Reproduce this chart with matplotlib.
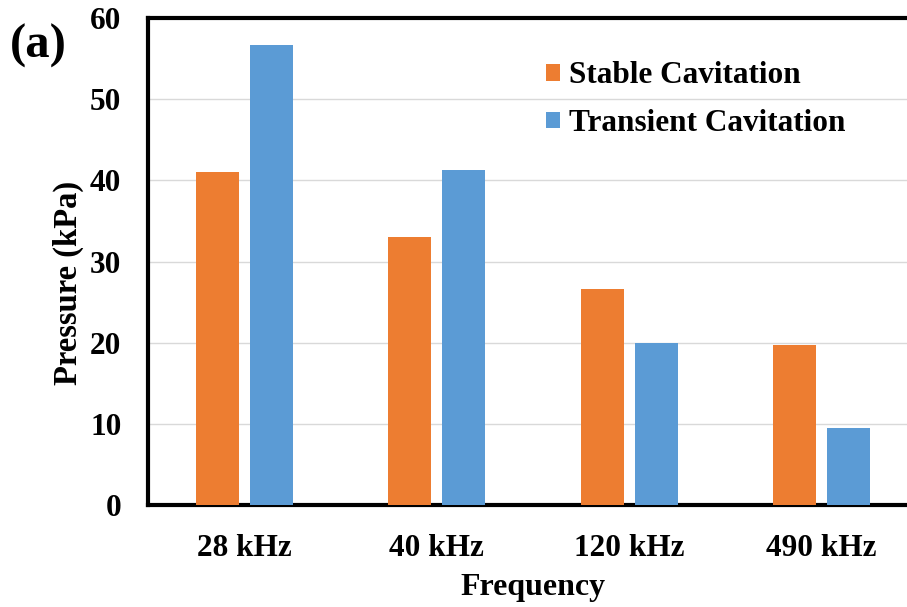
import numpy as np
import matplotlib.pyplot as plt

# Pressure measured for each ultrasonic frequency
frequencies = ['28 kHz', '40 kHz', '120 kHz', '490 kHz']
stable = [41.1, 33.0, 26.6, 19.7]
transient = [56.7, 41.3, 20.0, 9.5]

plt.rcParams['font.family'] = ['Liberation Serif', 'DejaVu Serif']
plt.rcParams['font.weight'] = 'bold'

fig = plt.figure(figsize=(9.07, 6.07), dpi=100)
ax = fig.add_axes([0.163, 0.168, 0.849, 0.802])

x = np.arange(len(frequencies))
w = 0.223
ax.bar(x - 0.14, stable, w, color='#ED7D31', label='Stable Cavitation', zorder=3)
ax.bar(x + 0.14, transient, w, color='#5B9BD5', label='Transient Cavitation', zorder=3)

ax.set_xlim(-0.5, 3.5)
ax.set_ylim(0, 60)
ax.set_yticks(range(0, 61, 10))
ax.set_xticks(x)
ax.set_xticklabels(frequencies)
ax.tick_params(axis='both', length=0, labelsize=22.5)
ax.tick_params(axis='y', pad=19)
ax.tick_params(axis='x', pad=21)
for lab in ax.get_xticklabels() + ax.get_yticklabels():
    lab.set_fontweight('bold')

ax.grid(axis='y', color='#d9d9d9', lw=1, zorder=0)
for s in ['left', 'bottom', 'top']:
    ax.spines[s].set_linewidth(3)
ax.spines['right'].set_visible(False)

ax.set_xlabel('Frequency', fontsize=23, fontweight='bold', labelpad=7)
ax.set_ylabel('Pressure (kPa)', fontsize=23.5, fontweight='bold')
ax.yaxis.set_label_coords(-0.083, 0.456)

ax.legend(loc='upper left', bbox_to_anchor=(0.48, 0.969), frameon=False,
          prop={'size': 22.5, 'weight': 'bold'}, handlelength=0.45, handleheight=0.45,
          handletextpad=0.3, labelspacing=0.6)

fig.text(0.011, 0.905, '(a)', fontsize=35, fontweight='bold')

fig.savefig('out.png', dpi=100)
